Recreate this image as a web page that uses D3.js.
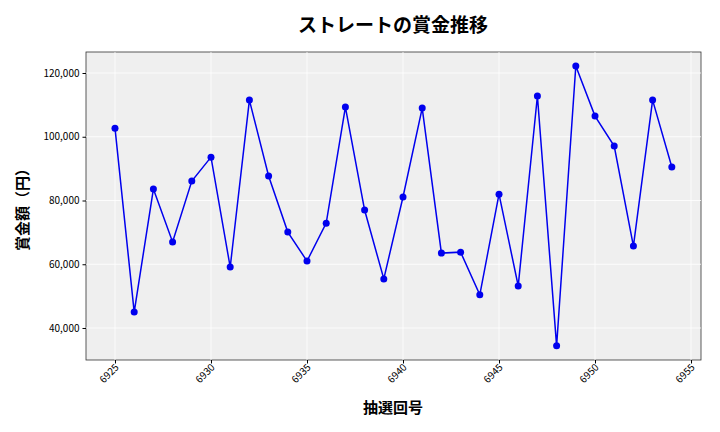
<!DOCTYPE html>
<html><head><meta charset="utf-8">
<script src="https://cdn.jsdelivr.net/npm/d3@7"></script>
<style>body{margin:0;background:#fff}text{font-family:"Noto Sans CJK JP","Noto Sans",sans-serif}</style>
</head><body><svg id="c" width="720" height="432"></svg>
<script>
const draws=[6925,6926,6927,6928,6929,6930,6931,6932,6933,6934,6935,6936,6937,6938,6939,6940,6941,6942,6943,6944,6945,6946,6947,6948,6949,6950,6951,6952,6953,6954];
const prizes=[102700,45000,83600,67000,86100,93600,59100,111500,87700,70100,61000,72900,109300,77000,55400,81100,109000,63500,63800,50400,82000,53200,112800,34400,122200,106500,97100,65700,111500,90500];
const xTicks=[6925,6930,6935,6940,6945,6950,6955];
const yTicks=[40000,60000,80000,100000,120000];
const svg=d3.select("#c");
const L=86,R=701,T=52,B=360;
const x=d3.scaleLinear().domain([6923.49,6955.52]).range([L,R]);
const y=d3.scaleLinear().domain([29960,126590]).range([B,T]);
svg.append("rect").attr("x",L).attr("y",T).attr("width",R-L).attr("height",B-T).attr("fill","#efefef").attr("stroke","#333").attr("stroke-width",0.8);
const g=svg.append("g");
g.selectAll(".gx").data(xTicks).join("line").attr("x1",d=>x(d)).attr("x2",d=>x(d)).attr("y1",T).attr("y2",B).attr("stroke","#fff").attr("stroke-width",0.8);
g.selectAll(".gy").data(yTicks).join("line").attr("x1",L).attr("x2",R).attr("y1",d=>y(d)).attr("y2",d=>y(d)).attr("stroke","#fff").attr("stroke-width",0.8);
const xa=svg.append("g").attr("transform",`translate(0,${B})`).call(d3.axisBottom(x).tickValues(xTicks).tickFormat(d3.format("d")).tickSize(3.5));
xa.select(".domain").remove();
xa.selectAll("text").attr("font-size",10).attr("transform",function(){return null}).each(function(d){d3.select(this).attr("text-anchor","end").attr("dx",0).attr("dy",0).attr("y",0).attr("x",0).attr("transform",`translate(${4},${8}) rotate(-45)`)});
const ya=svg.append("g").attr("transform",`translate(${L},0)`).call(d3.axisLeft(y).tickValues(yTicks).tickFormat(d3.format(",")).tickSize(3.5));
ya.select(".domain").remove();
ya.selectAll("text").attr("font-size",10);
const line=d3.line().x((d,i)=>x(draws[i])).y(d=>y(d));
svg.append("path").datum(prizes).attr("d",line).attr("fill","none").attr("stroke","#0000ee").attr("stroke-width",1.5);
svg.selectAll(".pt").data(prizes).join("circle").attr("cx",(d,i)=>x(draws[i])).attr("cy",d=>y(d)).attr("r",3.5).attr("fill","#0000ee");
svg.append("text").attr("x",393).attr("y",32).attr("text-anchor","middle").attr("font-size",19).attr("font-weight","bold").text("ストレートの賞金推移");
svg.append("text").attr("x",393).attr("y",413).attr("text-anchor","middle").attr("font-size",15).attr("font-weight","bold").text("抽選回号");
svg.append("text").attr("transform","translate(28,206) rotate(-90)").attr("text-anchor","middle").attr("font-size",15).attr("font-weight","bold").text("賞金額（円）");
</script></body></html>
